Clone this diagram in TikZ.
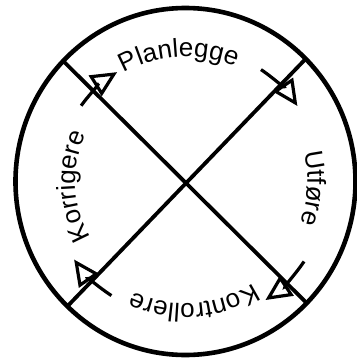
\documentclass[tikz,border=0pt]{standalone}
\usepackage{fontspec}
\setmainfont{Liberation Sans}
\usetikzlibrary{arrows.meta, decorations.text}
\newcommand{\phasefont}{\fontsize{13}{15}\selectfont}
\tikzset{
  ring/.style      = {line width=2.3pt},
  crossline/.style = {line width=1.9pt},
  cyc/.style       = {-{Triangle[open, length=13pt, width=12pt]}, line width=1.6pt},
  phase/.style     = {decorate, decoration={text along path, text align=center, text={|\phasefont|#1}}},
}

\begin{document}
\begin{tikzpicture}[x=0.5pt, y=0.5pt]
  \useasboundingbox (-185.5,-178.5) rectangle (171.5,181.5);
  \draw[ring] (0,0) circle[x radius=170, y radius=173.5];

  \coordinate (ul) at (136:170 and 173.5);
  \coordinate (ur) at (45:170 and 173.5);
  \coordinate (ll) at (226:170 and 173.5);
  \coordinate (lr) at (-44.5:170 and 173.5);
  \draw[crossline] (ul) -- (lr);
  \draw[crossline] (ur) -- (ll);

  % arrows of the cycle
  \foreach \a/\r in {133/129, 45/135, -45/143, 226/136}
    \draw[cyc] (\a+11:\r) arc[start angle=\a+11, end angle=\a-11, radius=\r];

  % phase labels
  \path[phase=Planlegge]   (133:125) arc[start angle=133, end angle=53, radius=125];
  \path[phase=Utføre]      (37:122) arc[start angle=37, end angle=-43, radius=122];
  \path[phase=Kontrollere] (-41:122) arc[start angle=-41, end angle=-131, radius=122];
  \path[phase=Korrigere]   (222.5:110) arc[start angle=222.5, end angle=142.5, radius=110];
\end{tikzpicture}
\end{document}
